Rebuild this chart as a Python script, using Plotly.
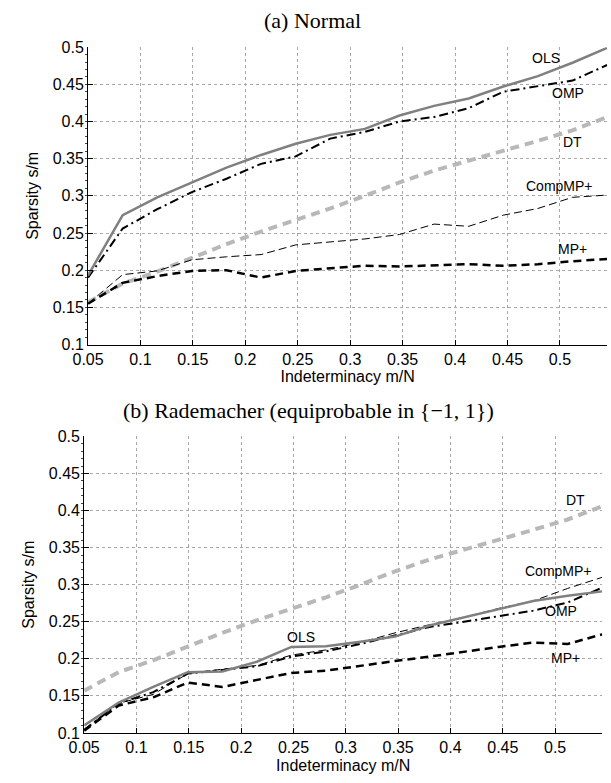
import plotly.graph_objects as go

# m/N grid (indeterminacy)
delta = [0.05, 0.083, 0.116, 0.149, 0.182, 0.215, 0.248, 0.281, 0.314, 0.347,
         0.380, 0.413, 0.446, 0.479, 0.512, 0.545]

# (a) Normal
a_ols = [0.193, 0.274, 0.298, 0.318, 0.338, 0.355, 0.370, 0.382, 0.390, 0.408,
         0.421, 0.431, 0.447, 0.461, 0.479, 0.499]
a_omp = [0.190, 0.256, 0.282, 0.305, 0.323, 0.343, 0.353, 0.377, 0.386, 0.400,
         0.406, 0.418, 0.440, 0.447, 0.455, 0.476]
a_dt = [0.157, 0.182, 0.198, 0.217, 0.235, 0.252, 0.267, 0.283, 0.300, 0.318,
        0.334, 0.347, 0.361, 0.374, 0.388, 0.406]
a_comp = [0.155, 0.194, 0.199, 0.214, 0.218, 0.221, 0.234, 0.238, 0.242, 0.248,
          0.262, 0.259, 0.274, 0.283, 0.298, 0.301]
a_mp = [0.155, 0.183, 0.192, 0.199, 0.200, 0.190, 0.199, 0.203, 0.206, 0.205,
        0.207, 0.208, 0.206, 0.208, 0.212, 0.215]

# (b) Rademacher
b_ols = [0.110, 0.141, 0.162, 0.182, 0.183, 0.196, 0.216, 0.217, 0.223, 0.230,
         0.245, 0.256, 0.267, 0.278, 0.285, 0.291]
b_omp = [0.104, 0.140, 0.155, 0.180, 0.185, 0.190, 0.203, 0.210, 0.220, 0.232,
         0.243, 0.250, 0.258, 0.265, 0.276, 0.296]
b_dt = [0.157, 0.182, 0.198, 0.217, 0.235, 0.252, 0.267, 0.283, 0.300, 0.318,
        0.334, 0.347, 0.361, 0.374, 0.388, 0.406]
b_comp = [0.105, 0.140, 0.152, 0.180, 0.186, 0.191, 0.205, 0.212, 0.222, 0.235,
          0.246, 0.256, 0.268, 0.278, 0.295, 0.310]
b_mp = [0.103, 0.137, 0.148, 0.168, 0.162, 0.172, 0.181, 0.184, 0.190, 0.197,
        0.203, 0.210, 0.216, 0.222, 0.220, 0.233]

xticks = [0.05, 0.1, 0.15, 0.2, 0.25, 0.3, 0.35, 0.4, 0.45, 0.5]
xticktext = ["0.05", "0.1", "0.15", "0.2", "0.25", "0.3", "0.35", "0.4", "0.45", "0.5"]
yticks = [0.1, 0.15, 0.2, 0.25, 0.3, 0.35, 0.4, 0.45, 0.5]
yticktext = ["0.1", "0.15", "0.2", "0.25", "0.3", "0.35", "0.4", "0.45", "0.5"]

title_a = "(a) Normal"
title_b = "(b) Rademacher (equiprobable in {\u22121, 1})"

# label positions (data coords)
labels_a = [("OLS", 0.487, 0.485), ("OMP", 0.508, 0.438), ("DT", 0.512, 0.373),
            ("CompMP+", 0.500, 0.313), ("MP+", 0.512, 0.229)]
labels_b = [("DT", 0.519, 0.414), ("CompMP+", 0.503, 0.319), ("OMP", 0.506, 0.264),
            ("OLS", 0.257, 0.229), ("MP+", 0.510, 0.201)]

W, H = 611, 783

styles = {
    "DT": dict(color="#b8b8b8", width=4, dash="9px,6px"),
    "CompMP+": dict(color="black", width=1, dash="8px,4px"),
    "MP+": dict(color="black", width=2.5, dash="8px,5px"),
    "OMP": dict(color="black", width=2, dash="9px,4px,2px,4px"),
    "OLS": dict(color="#808080", width=2.5),
}

fig = go.Figure()

def add_series(xa, ya, data):
    for name in ["DT", "CompMP+", "MP+", "OMP", "OLS"]:
        fig.add_trace(go.Scatter(x=delta, y=data[name], mode="lines", xaxis=xa, yaxis=ya,
                                 line=styles[name], showlegend=False, hoverinfo="skip"))

add_series("x", "y", {"DT": a_dt, "CompMP+": a_comp, "MP+": a_mp, "OMP": a_omp, "OLS": a_ols})
add_series("x2", "y2", {"DT": b_dt, "CompMP+": b_comp, "MP+": b_mp, "OMP": b_omp, "OLS": b_ols})

tickfont = dict(family="Liberation Sans, Arial, sans-serif", size=16, color="black")

def xaxis(domain, anchor):
    return dict(domain=domain, anchor=anchor, range=[0.05, 0.545], tickvals=xticks,
                ticktext=xticktext, showline=True, linecolor="black", linewidth=1,
                ticks="inside", ticklen=5, tickcolor="black", showgrid=True,
                gridcolor="#a8a8a8", griddash="dot", gridwidth=1, zeroline=False,
                tickfont=tickfont, mirror=False,
                title=dict(text="Indeterminacy m/N", font=tickfont, standoff=4))

def yaxis(domain, anchor):
    return dict(domain=domain, anchor=anchor, range=[0.1, 0.5], tickvals=yticks,
                ticktext=yticktext, showline=True, linecolor="black", linewidth=1,
                ticks="inside", ticklen=5, tickcolor="black", showgrid=True,
                gridcolor="#a8a8a8", griddash="dot", gridwidth=1, zeroline=False,
                tickfont=tickfont,
                minor=dict(ticks="outside", ticklen=2, dtick=0.01, tickcolor="#444", showgrid=False),
                title=dict(text="Sparsity s/m", font=tickfont, standoff=10))

fig.update_layout(
    width=W, height=H, paper_bgcolor="white", plot_bgcolor="white",
    margin=dict(l=0, r=0, t=0, b=0),
    xaxis=xaxis([74 / W, 607 / W], "y"),
    yaxis=yaxis([1 - 344 / H, 1 - 40 / H], "x"),
    xaxis2=xaxis([70 / W, 602 / W], "y2"),
    yaxis2=yaxis([1 - 741 / H, 1 - 438 / H], "x2"),
)

titlefont = dict(family="Liberation Serif, Times New Roman, serif", size=22, color="black")
fig.add_annotation(text=title_a, xref="paper", yref="paper", x=304 / W, y=1 - 13 / H,
                   showarrow=False, font=titlefont, xanchor="center", yanchor="middle")
fig.add_annotation(text=title_b, xref="paper", yref="paper", x=300 / W, y=1 - 411 / H,
                   showarrow=False, font=titlefont, xanchor="center", yanchor="middle")

labfont = dict(family="Liberation Sans, Arial, sans-serif", size=14, color="black")
for t, x, y in labels_a:
    fig.add_annotation(text=t, x=x, y=y, xref="x", yref="y", showarrow=False, font=labfont)
for t, x, y in labels_b:
    fig.add_annotation(text=t, x=x, y=y, xref="x2", yref="y2", showarrow=False, font=labfont)

fig.write_html("out.html", config={"displayModeBar": False},
               post_script="document.body.style.margin='0px';")
